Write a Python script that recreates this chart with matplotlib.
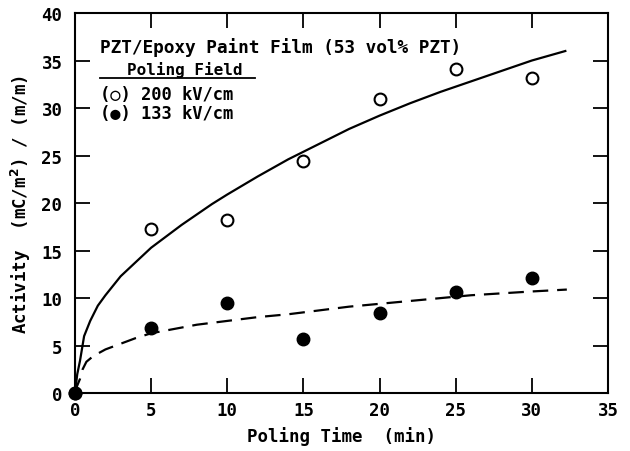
import matplotlib
matplotlib.use('Agg')
import matplotlib.pyplot as plt

plt.rcParams['font.family'] = ['DejaVu Sans Mono', 'DejaVu Sans']
plt.rcParams['font.weight'] = 'bold'

# measured points
time_min = [0, 5, 10, 15, 20, 25, 30]
act_200 = [0, 17.3, 18.2, 24.4, 30.9, 34.1, 33.2]
act_133 = [0, 6.9, 9.5, 5.7, 8.4, 10.6, 12.1]

# fitted curves
fit_t_200 = [0.0, 0.15, 0.33, 0.6, 1, 1.5, 2, 3, 4, 5, 6, 7, 8, 9, 10, 12, 14, 16,
             18, 20, 22, 24, 26, 28, 30, 32.2]
fit_y_200 = [0.0, 2.0, 3.4, 6.0, 7.6, 9.2, 10.3, 12.3, 13.8, 15.3, 16.5, 17.7, 18.8,
             19.9, 20.9, 22.8, 24.6, 26.2, 27.8, 29.2, 30.5, 31.7, 32.8, 33.9, 35.0, 36.0]
fit_t_133 = [0.0, 0.15, 0.33, 0.5, 0.75, 1.2, 2, 3, 4, 5, 6, 8, 10, 12, 14, 16, 18,
             20, 22, 24, 26, 28, 30, 32.3]
fit_y_133 = [0.0, 0.8, 1.5, 2.5, 3.3, 3.9, 4.6, 5.2, 5.8, 6.3, 6.6, 7.2, 7.6, 8.0, 8.3,
             8.7, 9.1, 9.4, 9.7, 10.0, 10.3, 10.5, 10.7, 10.9]

fig = plt.figure(figsize=(6.3, 4.52), dpi=100)
ax = fig.add_axes([0.119, 0.128, 0.846, 0.841])

ax.plot(fit_t_200, fit_y_200, color='black', lw=1.6)
ax.plot(fit_t_133, fit_y_133, color='black', lw=1.6, dashes=(7, 4))
ax.plot(time_min, act_200, 'o', ms=8.5, mfc='white', mec='black', mew=1.5, clip_on=False)
ax.plot(time_min, act_133, 'o', ms=9, mfc='black', mec='black', clip_on=False)

ax.set_xlim(0, 35)
ax.set_ylim(0, 40)
ax.set_xticks(range(0, 36, 5))
ax.set_yticks(range(0, 41, 5))
ax.tick_params(direction='in', length=11, width=1.3, top=True, right=True,
               labelsize=12.5, pad=6)
ax.tick_params(axis='y', pad=9)
for s in ax.spines.values():
    s.set_linewidth(1.5)

ax.set_xlabel('Poling Time  (min)', fontsize=12.5, fontweight='bold', labelpad=5)
ax.set_ylabel('Activity  (mC/m$^2$) / (m/m)', fontsize=12.5, fontweight='bold', labelpad=6)

ax.text(1.65, 35.9, 'PZT/Epoxy Paint Film (53 vol% PZT)', fontsize=12.8, fontweight='bold')
ax.text(3.4, 33.6, 'Poling Field', fontsize=11.5, fontweight='bold')
ax.plot([1.65, 11.8], [33.2, 33.2], color='black', lw=1.3)
ax.text(1.65, 31.0, '(\u25cb) 200 kV/cm', fontsize=12.3, fontweight='bold')
ax.text(1.65, 28.9, '(\u25cf) 133 kV/cm', fontsize=12.3, fontweight='bold')

fig.savefig('out.png', dpi=100)
